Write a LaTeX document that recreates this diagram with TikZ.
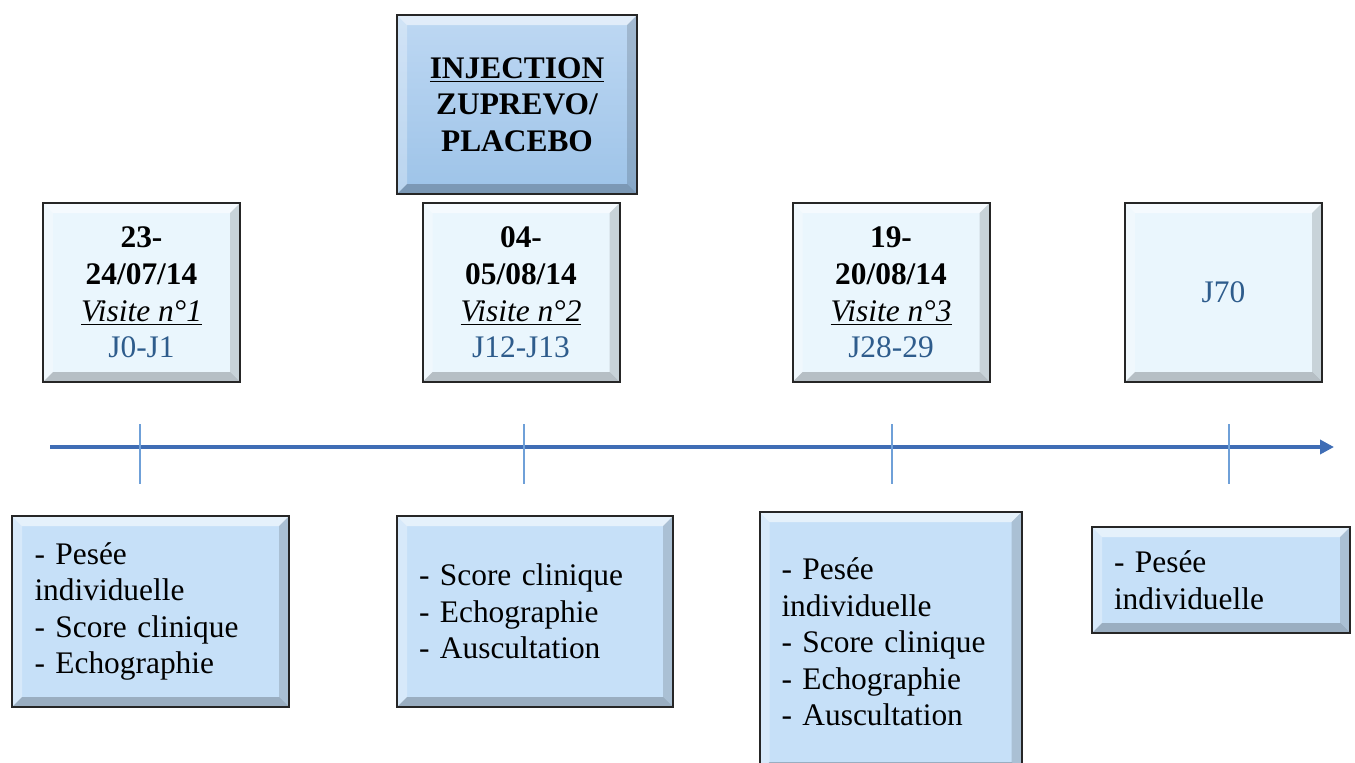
\documentclass[tikz,border=0pt]{standalone}
\usepackage{fontspec}
\setmainfont{Liberation Serif}
\usepackage{tikz}
\usetikzlibrary{arrows.meta, positioning}
\definecolor{axebleu}{RGB}{63,109,181}
\definecolor{tickbleu}{RGB}{111,160,216}
\definecolor{datebg}{RGB}{234,246,253}
\definecolor{tachebg}{RGB}{198,224,248}
\definecolor{injhaut}{RGB}{190,216,243}
\definecolor{injbas}{RGB}{157,195,232}
\definecolor{jourcol}{RGB}{46,92,140}

\begin{document}
\begin{tikzpicture}[x=0.5pt, y=-0.5pt,
  font=\fontsize{15.7}{18.3}\selectfont,
  bevel/.style={path picture={
      \fill[white, opacity=.55] (path picture bounding box.north west) -- (path picture bounding box.north east)
        -- ([shift={(-5pt,-5pt)}]path picture bounding box.north east) -- ([shift={(5pt,-5pt)}]path picture bounding box.north west) -- cycle;
      \fill[white, opacity=.3] (path picture bounding box.north west) -- (path picture bounding box.south west)
        -- ([shift={(5pt,5pt)}]path picture bounding box.south west) -- ([shift={(5pt,-5pt)}]path picture bounding box.north west) -- cycle;
      \fill[black, opacity=.14] (path picture bounding box.north east) -- (path picture bounding box.south east)
        -- ([shift={(-5pt,5pt)}]path picture bounding box.south east) -- ([shift={(-5pt,-5pt)}]path picture bounding box.north east) -- cycle;
      \fill[black, opacity=.22] (path picture bounding box.south west) -- (path picture bounding box.south east)
        -- ([shift={(-5pt,5pt)}]path picture bounding box.south east) -- ([shift={(5pt,5pt)}]path picture bounding box.south west) -- cycle;
    }},
  datebox/.style={rectangle, draw=black!85, line width=1pt, fill=datebg, bevel,
                  minimum width=98.5pt, minimum height=89.5pt, align=center},
  injbox/.style={rectangle, draw=black!85, line width=1pt, top color=injhaut, bottom color=injbas, bevel,
                 minimum width=120pt, minimum height=89.5pt, align=center, font=\fontsize{15.7}{18.3}\selectfont\bfseries},
  tache/.style={rectangle, draw=black!85, line width=1pt, fill=tachebg, bevel,
                minimum height=95.5pt, align=left, inner xsep=11pt},
  axe/.style={-{Triangle[length=7pt, width=7pt]}, axebleu, line width=2pt},
  repere/.style={tickbleu, line width=0.6pt}]

  \useasboundingbox (0,0) rectangle (1355,762);

  \node[injbox] (inj) at (517,104.5) {\underline{INJECTION}\\ZUPREVO/\\PLACEBO};

  \node[datebox] (v1) at (141.5,292.5) {\textbf{23-}\\\textbf{24/07/14}\\\underline{\textit{Visite n°1}}\\\textcolor{jourcol}{J0-J1}};
  \node[datebox] (v2) at (521,292.5) {\textbf{04-}\\\textbf{05/08/14}\\\underline{\textit{Visite n°2}}\\\textcolor{jourcol}{J12-J13}};
  \node[datebox] (v3) at (891,292.5) {\textbf{19-}\\\textbf{20/08/14}\\\underline{\textit{Visite n°3}}\\\textcolor{jourcol}{J28-29}};
  \node[datebox] (j70) at (1223.5,292.5) {\textcolor{jourcol}{J70}};

  \coordinate (debut) at (50,447);
  \coordinate (fin) at (1334,447);
  \draw[axe] (debut) -- (fin);
  \foreach \x in {140,524,892,1229}
    \draw[repere] (\x,424) -- (\x,484);

  \node[tache, minimum width=138.5pt, text width=116pt] (t1) at (150.5,611.5) {- Pesée\\individuelle\\- Score clinique\\- Echographie};
  \node[tache, minimum width=138pt, text width=116pt] (t2) at (535,611.5) {- Score clinique\\- Echographie\\- Auscultation};
  \node[tache, minimum width=130.5pt, minimum height=130pt, text width=109pt] (t3) at (890.5,642) {- Pesée\\individuelle\\- Score clinique\\- Echographie\\- Auscultation};
  \node[tache, minimum width=129pt, minimum height=53pt, text width=107pt] (t4) at (1221,580) {- Pesée\\individuelle};
\end{tikzpicture}
\end{document}
